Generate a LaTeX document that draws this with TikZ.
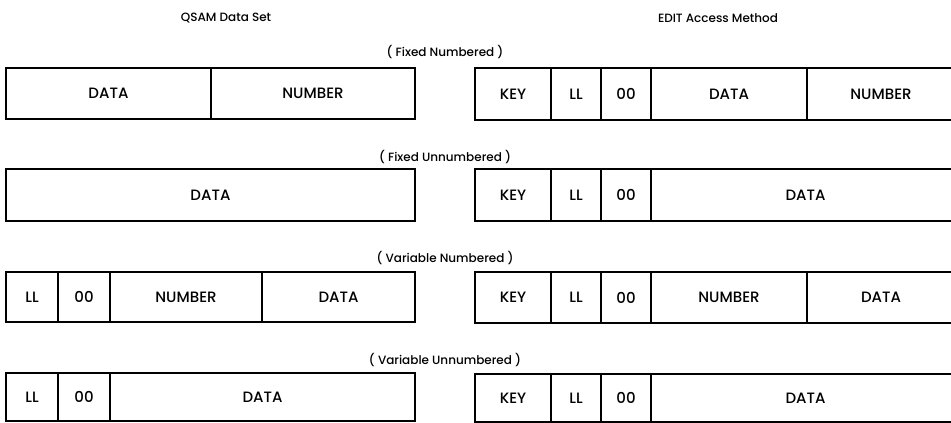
\documentclass[tikz,border=0pt]{standalone}
\usepackage{fontspec}
\setmainfont{Poppins}[UprightFont={* Medium}]
\begin{document}
\begin{tikzpicture}[x=1pt,y=-1pt,
  cell/.style={draw=black, line width=1.5pt, inner sep=0pt, outer sep=0pt,
    anchor=north west, font=\fontsize{15}{18}\selectfont},
  caption/.style={font=\fontsize{12}{15}\selectfont, inner sep=0pt},
  head/.style={font=\fontsize{12}{15}\selectfont, inner sep=0pt}]
\newcommand\cellat[6]{\node[cell, minimum width={(#4-#2)*1pt}, minimum height={(#5-#3)*1pt}] (#1) at (#2,#3) {#6};}
\useasboundingbox (0,0) rectangle (951,423);
\clip (0,0) rectangle (951,423);
% headers
\node[head] (hq) at (226,18) {QSAM Data Set};
\node[head] (he) at (718,18) {EDIT Access Method};
% captions
\node[caption] (c1) at (445,52) {( Fixed Numbered )};
\node[caption] (c2) at (445,157) {( Fixed Unnumbered )};
\node[caption] (c3) at (445,258) {( Variable Numbered )};
\node[caption] (c4) at (445,360) {( Variable Unnumbered )};
% row 1
\cellat{q1a}{6}{68}{211}{119}{DATA}
\cellat{q1b}{211}{68}{415}{119}{NUMBER}
\cellat{e1a}{475}{68}{551}{120}{KEY}
\cellat{e1b}{551}{68}{601}{120}{LL}
\cellat{e1c}{601}{68}{651}{120}{00}
\cellat{e1d}{651}{68}{807}{120}{DATA}
\cellat{e1e}{807}{68}{955}{120}{NUMBER}
% row 2
\cellat{q2a}{6}{169}{415}{221}{DATA}
\cellat{e2a}{475}{169}{551}{221}{KEY}
\cellat{e2b}{551}{169}{601}{221}{LL}
\cellat{e2c}{601}{169}{651}{221}{00}
\cellat{e2d}{651}{169}{960}{221}{DATA}
% row 3
\cellat{q3a}{6}{272}{58}{322}{LL}
\cellat{q3b}{58}{272}{110}{322}{00}
\cellat{q3c}{110}{272}{262}{322}{NUMBER}
\cellat{q3d}{262}{272}{415}{322}{DATA}
\cellat{e3a}{475}{272}{551}{323}{KEY}
\cellat{e3b}{551}{272}{601}{323}{LL}
\cellat{e3c}{601}{272}{651}{323}{00}
\cellat{e3d}{651}{272}{807}{323}{NUMBER}
\cellat{e3e}{807}{272}{955}{323}{DATA}
% row 4
\cellat{q4a}{6}{373}{58}{421}{LL}
\cellat{q4b}{58}{373}{110}{421}{00}
\cellat{q4c}{110}{373}{415}{421}{DATA}
\cellat{e4a}{475}{374}{551}{422}{KEY}
\cellat{e4b}{551}{374}{601}{422}{LL}
\cellat{e4c}{601}{374}{651}{422}{00}
\cellat{e4d}{651}{374}{960}{422}{DATA}
\end{tikzpicture}
\end{document}
